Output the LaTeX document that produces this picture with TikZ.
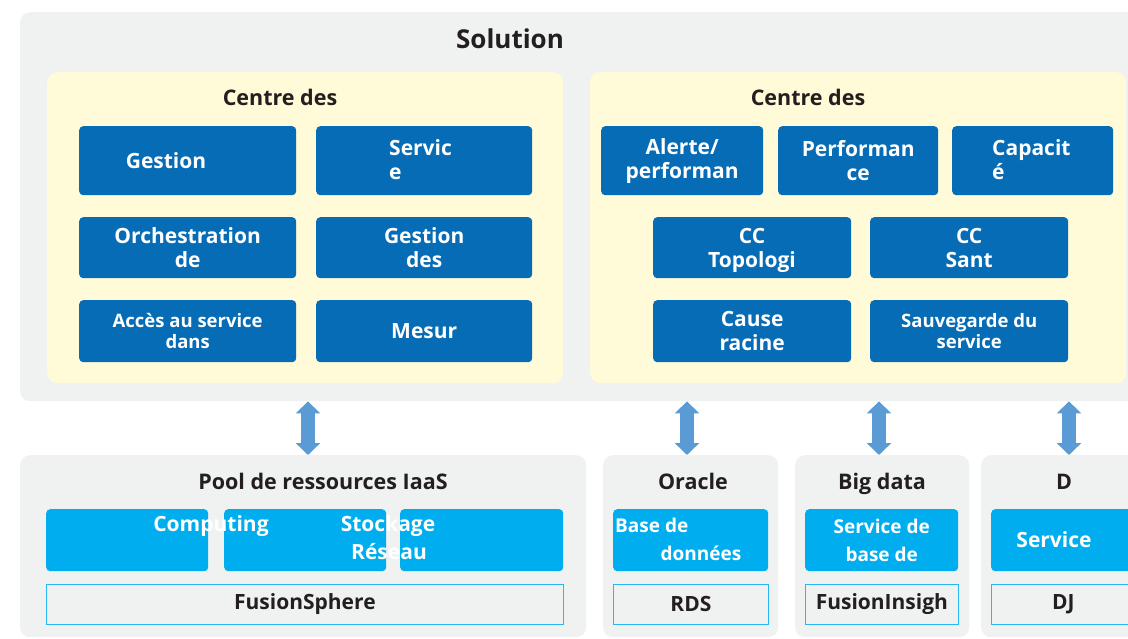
\documentclass[tikz,border=0pt]{standalone}
\usepackage{fontspec}
\setmainfont{Open Sans}
\usetikzlibrary{arrows.meta}
\definecolor{panelgray}{RGB}{240,241,241}
\definecolor{zoneyellow}{RGB}{255,250,215}
\definecolor{boxblue}{RGB}{6,108,181}
\definecolor{boxcyan}{RGB}{0,174,239}
\definecolor{arrowblue}{RGB}{91,155,213}
\definecolor{edgecyan}{RGB}{40,185,240}
\definecolor{titleink}{RGB}{35,31,32}
\tikzset{
  panel/.style={fill=panelgray, rounded corners=10pt, anchor=north west, inner sep=0pt},
  zone/.style={fill=zoneyellow, rounded corners=10pt, anchor=north west, inner sep=0pt},
  bluebox/.style={fill=boxblue, rounded corners=4pt, anchor=north west, inner sep=0pt,
    text=white, align=center, font=\bfseries\fontsize{21}{24}\selectfont},
  cyanbox/.style={fill=boxcyan, rounded corners=4pt, anchor=north west, inner sep=0pt,
    text=white, align=center, font=\bfseries\fontsize{19}{28}\selectfont},
  basebox/.style={draw=edgecyan, line width=0.8pt, fill=panelgray, anchor=north west, inner sep=0pt,
    text=titleink, font=\bfseries\fontsize{21}{24}\selectfont},
  boxtext/.style={text=white, inner sep=0pt, align=left, font=\bfseries\fontsize{21}{24}\selectfont},
  smalltext/.style={font=\bfseries\fontsize{18.5}{21}\selectfont},
  heading/.style={text=titleink, inner sep=0pt, anchor=base, font=\bfseries\fontsize{21.5}{26}\selectfont},
  fatarrow/.style={draw=arrowblue, line width=14pt,
    {Triangle[width=24pt,length=12pt]}-{Triangle[width=24pt,length=12pt]}}
}
\begin{document}
\begin{tikzpicture}[x=1pt, y=-1pt]
\useasboundingbox (0,0) rectangle (1128,639);
% Solution frame
\node[panel, minimum width=1130pt, minimum height=389pt] (sol) at (20,12) {};
\node[heading, font=\bfseries\fontsize{26}{30}\selectfont] (soltitle) at (510,49) {Solution};
% Left zone
\node[zone, minimum width=516pt, minimum height=311pt] (zoneL) at (47,72) {};
\node[heading] (zoneLtitle) at (280,106) {Centre des};
\node[bluebox, minimum width=217pt, minimum height=69pt] (gestion) at (79,126) {};
\node[boxtext] (gestiontxt) at (166,161) {Gestion};
\node[bluebox, minimum width=216pt, minimum height=69pt] (servic) at (316,126) {};
\node[boxtext, anchor=west] (servictxt) at (389,160) {Servic\\e};
\node[bluebox, minimum width=217pt, minimum height=61pt] (orch) at (79,217) {Orchestration\\de};
\node[bluebox, minimum width=216pt, minimum height=61pt] (gdes) at (316,217) {Gestion\\des};
\node[bluebox, smalltext, minimum width=217pt, minimum height=62pt] (acces) at (79,300) {Accès au service\\dans};
\node[bluebox, minimum width=216pt, minimum height=62pt] (mesur) at (316,300) {Mesur};
% Right zone
\node[zone, minimum width=536pt, minimum height=311pt] (zoneR) at (590,72) {};
\node[heading] (zoneRtitle) at (808,106) {Centre des};
\node[bluebox, minimum width=162pt, minimum height=69pt] (alerte) at (601,126) {Alerte/\\performan};
\node[bluebox, minimum width=160pt, minimum height=69pt] (perf) at (778,126) {Performan\\ce};
\node[bluebox, minimum width=161pt, minimum height=69pt] (capa) at (952,126) {};
\node[boxtext, anchor=west] (capatxt) at (992,160) {Capacit\\é};
\node[bluebox, minimum width=198pt, minimum height=61pt] (topo) at (653,217) {};
\node[boxtext, align=center] (topotxt) at (752,250) {CC\\Topologi};
\node[bluebox, minimum width=198pt, minimum height=61pt] (sant) at (870,217) {CC\\Sant};
\node[bluebox, minimum width=198pt, minimum height=62pt] (cause) at (653,300) {Cause\\racine};
\node[bluebox, smalltext, minimum width=198pt, minimum height=62pt] (sauve) at (870,300) {Sauvegarde du\\service};
% Pool de ressources IaaS
\node[panel, minimum width=566pt, minimum height=182pt] (pool) at (20,455) {};
\node[heading] (pooltitle) at (323,489) {Pool de ressources IaaS};
\node[cyanbox, minimum width=162pt, minimum height=62pt] (comp) at (46,509) {};
\node[cyanbox, minimum width=162pt, minimum height=62pt] (stock) at (224,509) {};
\node[cyanbox, minimum width=163pt, minimum height=62pt] (reseau) at (400,509) {};
\node[boxtext] (comptxt) at (211,526) {Computing};
\node[boxtext] (stocktxt) at (388,526) {Stockage};
\node[boxtext] (reseautxt) at (389,552) {Réseau};
\node[basebox, minimum width=517pt, minimum height=40pt] (fsphere) at (46,584) {FusionSphere};
% Oracle
\node[panel, minimum width=175pt, minimum height=182pt] (oracle) at (603,455) {};
\node[heading] (oracletitle) at (693,489) {Oracle};
\node[cyanbox, minimum width=155pt, minimum height=62pt] (bdd) at (613,509) {};
\node[boxtext, font=\bfseries\fontsize{19}{22}\selectfont, anchor=west] (bddtxt) at (615,525) {Base de};
\node[boxtext, font=\bfseries\fontsize{19}{22}\selectfont] (bddtxt2) at (701,553) {données};
\node[basebox, minimum width=155pt, minimum height=40pt] (rds) at (613,584) {RDS};
% Big data
\node[panel, minimum width=174pt, minimum height=182pt] (bigdata) at (795,455) {};
\node[heading] (bigdatatitle) at (882,489) {Big data};
\node[cyanbox, minimum width=153pt, minimum height=62pt] (sbase) at (805,509) {Service de\\base de};
\node[basebox, minimum width=153pt, minimum height=40pt] (finsight) at (805,584) {FusionInsigh};
% D
\node[panel, minimum width=170pt, minimum height=182pt] (dpanel) at (981,455) {};
\node[heading] (dtitle) at (1064,489) {D};
\node[cyanbox, minimum width=160pt, minimum height=62pt] (dserv) at (991,509) {};
\node[boxtext] (dservtxt) at (1054,540) {Service};
\node[basebox, minimum width=144pt, minimum height=40pt] (dj) at (991,584) {DJ};
% Links between layers
\coordinate (a1) at (308,0);
\coordinate (a2) at (687,0);
\coordinate (a3) at (879,0);
\coordinate (a4) at (1069,0);
\draw[fatarrow] (sol.south -| a1) -- (pool.north -| a1);
\draw[fatarrow] (sol.south -| a2) -- (oracle.north -| a2);
\draw[fatarrow] (sol.south -| a3) -- (bigdata.north -| a3);
\draw[fatarrow] (sol.south -| a4) -- (dpanel.north -| a4);
\end{tikzpicture}
\end{document}
